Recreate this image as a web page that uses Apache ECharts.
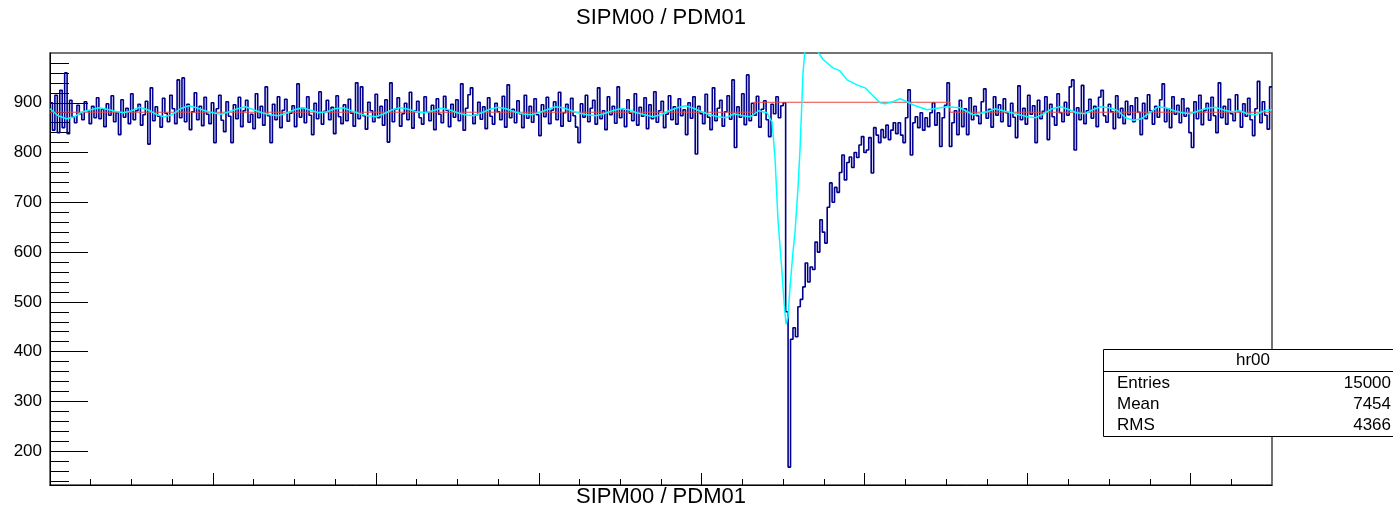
<!DOCTYPE html>
<html><head><meta charset="utf-8">
<script src="https://cdn.jsdelivr.net/npm/echarts@6/dist/echarts.min.js"></script>
<style>html,body{margin:0;padding:0;background:#fff;} #c{width:1393px;height:510px;}</style>
</head><body><div id="c"></div>
<script>
const titleText = 'SIPM00 / PDM01';
const xAxisTitle = 'SIPM00 / PDM01';
const binWidth = 30;
const xMin = 0, xMax = 15000;
const yMin = 132, yMax = 1000;
const yMajorTicks = [200, 300, 400, 500, 600, 700, 800, 900];
const yMinorTicks = [140,160,180,220,240,260,280,320,340,360,380,420,440,460,480,520,540,560,580,620,640,660,680,720,740,760,780,820,840,860,880,920,940,960,980];
const xMajorTicks = [0, 2000, 4000, 6000, 8000, 10000, 12000, 14000];
const xMinorTicks = [500,1000,1500,2500,3000,3500,4500,5000,5500,6500,7000,7500,8500,9000,9500,10500,11000,11500,12500,13000,13500,14500];

// dark-blue histogram, one value per bin of width 30
const histValues = [
900,845,915,840,925,850,960,838,905,872,860,895,878,866,902,884,858,893,870,910,
868,887,852,898,875,914,862,880,836,906,871,889,858,918,866,884,897,855,876,903,
817,930,864,892,873,851,909,879,862,915,888,858,946,870,950,862,897,846,882,920,
866,893,854,911,877,858,900,820,888,915,865,842,902,873,820,896,868,911,852,884,
905,861,877,848,918,870,893,855,932,874,820,897,866,912,850,885,907,863,879,894,
852,938,871,889,860,912,875,836,899,868,922,857,883,905,866,891,838,914,872,858,
896,864,907,879,853,940,868,932,874,847,901,884,862,917,870,893,855,906,821,940,
862,887,910,853,878,899,866,921,849,884,903,870,857,912,881,864,895,846,908,877,
860,913,885,852,897,871,906,864,938,845,889,916,930,858,876,901,867,892,848,910,
873,857,899,882,866,913,851,936,870,887,860,904,878,850,915,869,893,861,908,876,
834,896,872,911,858,885,902,866,921,853,880,897,863,909,874,851,820,898,871,915,
862,889,905,857,930,868,884,846,912,876,893,859,932,870,887,852,906,879,864,918,
855,891,873,910,848,896,868,922,861,884,903,850,877,914,866,892,857,908,874,886,
836,900,869,912,797,893,878,858,917,871,846,930,864,889,905,853,882,914,867,946,
810,892,871,918,856,956,864,899,875,913,851,887,904,866,832,897,878,912,870,894,
900,480,168,425,448,430,490,505,530,578,540,570,565,620,600,665,640,618,690,739,
700,730,720,760,795,745,780,791,770,800,790,815,832,800,805,830,759,850,835,820,
846,830,855,826,845,860,838,860,835,820,870,926,795,860,872,850,880,845,870,852,
880,900,855,880,812,870,895,940,812,860,884,836,905,852,888,836,910,866,893,874,
858,902,928,869,887,851,912,875,896,862,908,880,853,899,871,830,934,866,889,857,
915,877,894,820,905,868,883,912,826,897,872,855,918,880,862,901,875,932,946,805,
890,866,935,858,884,907,869,893,852,911,925,874,861,897,882,848,914,870,889,858,
903,876,894,862,910,881,836,899,868,916,884,857,893,871,906,938,862,888,850,912,
877,895,860,908,873,889,840,810,902,868,915,856,884,899,865,911,874,840,940,870,
893,857,907,878,864,916,882,851,898,873,909,866,834,888,943,860,902,875,847,932
];

// cyan smoothed curve: left baseline (x = 0..8800, step 100)
const cyanStep = 100;
const cyanLeftStart = 0;
const cyanLeft = [
888,874,868,872,882,886,890,887,883,880,884,891,886,877,872,876,888,894,890,884,
880,877,882,888,892,886,880,876,874,879,886,890,885,880,882,888,890,884,878,874,
872,878,886,890,887,882,880,884,889,886,880,876,874,880,887,891,888,882,878,876,
880,886,892,890,884,879,876,874,878,884,888,886,880,876,872,876,884,890,894,889,
882,876,872,870,878,874,872,884,880
];
// cyan around the pulse
const cyanDipX = [8838,8863,8899,8936,8961,8985,9010,9035,9059,9084,9120,9145,9182,9206,9243,9280,9354,9415,9489,9611,9697,9783,9906,10004,10090,10188,10250,10348,10434,10519,10593,10765,11011,11170,11330];
const cyanDipY = [868,862,790,665,612,560,500,455,470,530,600,640,730,805,960,1030,1040,1005,987,970,964,946,936,930,916,900,898,902,908,902,896,886,892,890,876];
// cyan right baseline (x = 11400..15000, step 100)
const cyanRightStart = 11400;
const cyanRight = [878,882,888,884,880,876,872,870,878,888,892,887,880,878,886,892,890,885,870,865,868,880,892,890,884,880,878,884,889,891,886,882,884,878,876,884,886];

// red reference step line
const redX = [0, 8642, 11048, 15000];
const redY = [881, 901, 881, 881];

// stats box
const statsName = 'hr00';
const statsLabels = ['Entries', 'Mean', 'RMS'];
const statsValues = ['15000', '7454', '4366'];

const histData = histValues.map((v, i) => [xMin + i * binWidth, v]);
histData.push([xMax, histValues[histValues.length - 1]]);
const cyanData = [];
cyanLeft.forEach((v, i) => cyanData.push([cyanLeftStart + i * cyanStep, v]));
cyanDipX.forEach((x, i) => cyanData.push([x, cyanDipY[i]]));
cyanRight.forEach((v, i) => cyanData.push([cyanRightStart + i * cyanStep, v]));
const redData = redX.map((x, i) => [x, redY[i]]);

const FONT = '"Liberation Sans", Arial, Helvetica, sans-serif';
const chart = echarts.init(document.getElementById('c'), null, {renderer: 'canvas'});

const statsGraphics = [
  {type: 'rect', z: 100, shape: {x: 1103.5, y: 349.5, width: 300, height: 87}, style: {fill: '#fff', stroke: '#000', lineWidth: 1}},
  {type: 'line', z: 101, shape: {x1: 1103.5, y1: 371.5, x2: 1393, y2: 371.5}, style: {stroke: '#000', lineWidth: 1}},
  {type: 'text', z: 101, x: 1253, y: 360.5, style: {text: statsName, fill: '#000', font: '17px ' + FONT, textAlign: 'center', textVerticalAlign: 'middle'}}
];
statsLabels.forEach((l, i) => {
  const y = 383 + i * 21;
  statsGraphics.push({type: 'text', z: 101, x: 1117, y: y, style: {text: l, fill: '#000', font: '17px ' + FONT, textAlign: 'left', textVerticalAlign: 'middle'}});
  statsGraphics.push({type: 'text', z: 101, x: 1391, y: y, style: {text: statsValues[i], fill: '#000', font: '17px ' + FONT, textAlign: 'right', textVerticalAlign: 'middle'}});
});

chart.setOption({
  animation: false,
  backgroundColor: '#fff',
  grid: {left: 50, top: 53, width: 1222, height: 432, show: true, borderColor: '#444', borderWidth: 1.5, backgroundColor: 'transparent'},
  xAxis: [
    {type: 'value', min: xMin, max: xMax, position: 'bottom',
     axisLine: {show: true, onZero: false, lineStyle: {color: '#000', width: 1}},
     axisTick: {show: true, inside: true, length: 12, customValues: xMajorTicks, lineStyle: {color: '#000'}},
     axisLabel: {show: false}, splitLine: {show: false}},
    {type: 'value', min: xMin, max: xMax, position: 'bottom',
     axisLine: {show: false},
     axisTick: {show: true, inside: true, length: 6, customValues: xMinorTicks, lineStyle: {color: '#000'}},
     axisLabel: {show: false}, splitLine: {show: false}}
  ],
  yAxis: [
    {type: 'value', min: yMin, max: yMax, position: 'left',
     axisLine: {show: true, onZero: false, lineStyle: {color: '#000', width: 1}},
     axisTick: {show: true, inside: true, length: 38, customValues: yMajorTicks, lineStyle: {color: '#000'}},
     axisLabel: {show: true, customValues: yMajorTicks, margin: 8, color: '#000', fontSize: 17, fontFamily: FONT},
     splitLine: {show: false}},
    {type: 'value', min: yMin, max: yMax, position: 'left',
     axisLine: {show: false},
     axisTick: {show: true, inside: true, length: 19, customValues: yMinorTicks, lineStyle: {color: '#000'}},
     axisLabel: {show: false}, splitLine: {show: false}}
  ],
  series: [
    {type: 'line', name: 'hist', xAxisIndex: 0, yAxisIndex: 0, step: 'end', data: histData, symbol: 'none', clip: true,
     lineStyle: {color: '#00008c', width: 1.6}, z: 2},
    {type: 'line', name: 'ref', xAxisIndex: 0, yAxisIndex: 0, step: 'end', data: redData, symbol: 'none', clip: true,
     lineStyle: {color: '#e84848', width: 1}, z: 3},
    {type: 'line', name: 'smooth', xAxisIndex: 0, yAxisIndex: 0, data: cyanData, symbol: 'none', clip: true,
     lineStyle: {color: '#00ffff', width: 1.5}, z: 4}
  ],
  graphic: [
    {type: 'text', x: 661, y: 18, style: {text: titleText, fill: '#000', font: '22px ' + FONT, textAlign: 'center', textVerticalAlign: 'middle'}},
    {type: 'text', x: 661, y: 497, style: {text: xAxisTitle, fill: '#000', font: '22px ' + FONT, textAlign: 'center', textVerticalAlign: 'middle'}}
  ].concat(statsGraphics)
});
</script>
</body></html>
